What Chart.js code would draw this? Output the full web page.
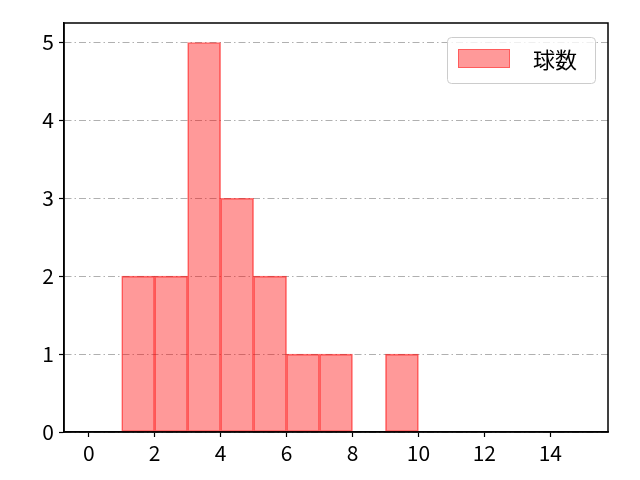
<!DOCTYPE html>
<html>
<head>
<meta charset="utf-8">
<script src="https://cdn.jsdelivr.net/npm/chart.js@4"></script>
<style>
  body { margin: 0; background: #fff; }
  #wrap { width: 640px; height: 480px; }
</style>
</head>
<body>
<div id="wrap"><canvas id="myChart" width="640" height="480"></canvas></div>
<script>
// histogram data
const binEdges = [1, 2, 3, 4, 5, 6, 7, 8, 9, 10];
const counts = [2, 2, 5, 3, 2, 1, 1, 0, 1];
const xTicks = [0, 2, 4, 6, 8, 10, 12, 14];
const yTicks = [0, 1, 2, 3, 4, 5];
const seriesLabel = '球数';

const FONT = "'Noto Sans CJK JP', 'Noto Sans', sans-serif";

let points = [];
for (let i = 0; i < counts.length; i++) {
    let mid = (binEdges[i] + binEdges[i + 1]) / 2;
    points.push({ x: mid, y: counts[i] === 0 ? null : counts[i] });
}

// black box all around the plot
const frame = {
    id: 'frame',
    afterDraw(chart) {
        const a = chart.chartArea;
        const c = chart.ctx;
        c.save();
        c.strokeStyle = '#000';
        c.lineWidth = 1.5;
        c.strokeRect(a.left, a.top, a.right - a.left, a.bottom - a.top);
        c.restore();
    }
};

// legend box inside the plot, top right
const boxLegend = {
    id: 'boxLegend',
    afterDraw(chart) {
        const c = chart.ctx;
        const a = chart.chartArea;
        const w = 148, h = 46;
        const x = a.right - 13 - w, y = a.top + 14;
        c.save();
        c.fillStyle = 'rgba(255,255,255,0.8)';
        c.strokeStyle = '#cccccc';
        c.lineWidth = 1;
        c.beginPath();
        c.roundRect(x + 0.5, y + 0.5, w, h, 4);
        c.fill();
        c.stroke();
        c.fillStyle = 'rgba(255,0,0,0.4)';
        c.strokeStyle = 'rgba(255,0,0,0.4)';
        c.fillRect(x + 11, y + 12, 52, 19);
        c.strokeRect(x + 11.5, y + 12.5, 51, 18);
        c.fillStyle = '#000';
        c.font = '22px ' + FONT;
        c.textBaseline = 'middle';
        c.fillText(seriesLabel, x + 86, y + 23);
        c.restore();
    }
};

let ctx = document.getElementById('myChart').getContext('2d');
new Chart(ctx, {
    type: 'bar',
    data: {
        datasets: [{
            label: seriesLabel,
            data: points,
            backgroundColor: 'rgba(255,0,0,0.4)',
            borderColor: 'rgba(255,0,0,0.55)',
            borderWidth: 1,
            borderSkipped: false,
            barPercentage: 1,
            categoryPercentage: 1
        }]
    },
    options: {
        responsive: false,
        animation: false,
        layout: { padding: { top: 23, right: 32, left: 0, bottom: 0 } },
        plugins: { legend: { display: false }, tooltip: { enabled: false } },
        scales: {
            x: {
                type: 'linear',
                min: -0.75,
                max: 15.75,
                offset: false,
                afterBuildTicks: (s) => { s.ticks = xTicks.map(v => ({ value: v })); },
                afterFit: (s) => { s.height = 48; },
                grid: { drawOnChartArea: false, tickLength: 5, tickColor: '#000', tickWidth: 1.2, offset: false },
                border: { display: true, color: '#000', width: 1.5 },
                ticks: { color: '#000', font: { family: FONT, size: 21 }, padding: 3, maxRotation: 0 }
            },
            y: {
                min: 0,
                max: 5.25,
                z: 1,
                afterBuildTicks: (s) => { s.ticks = yTicks.map(v => ({ value: v })); },
                afterFit: (s) => { s.width = 64; },
                grid: {
                    color: '#b0b0b0',
                    lineWidth: 1,
                    tickBorderDash: [],
                    tickColor: '#000',
                    tickWidth: 1.2,
                    tickLength: 5
                },
                border: { display: true, color: '#000', width: 1.5, dash: [7, 3, 1.5, 3] },
                ticks: { color: '#000', font: { family: FONT, size: 21 }, padding: 5 }
            }
        }
    },
    plugins: [frame, boxLegend]
});
</script>
</body>
</html>
